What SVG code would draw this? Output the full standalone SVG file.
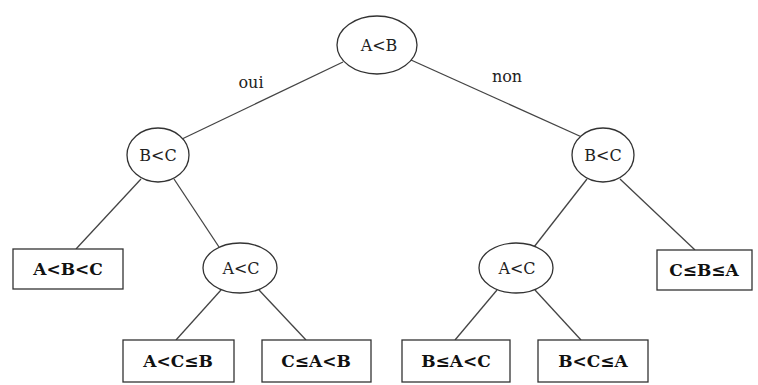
<svg xmlns="http://www.w3.org/2000/svg" width="758" height="385" viewBox="0 0 758 385">
<style>
.n{fill:#fff;stroke:#333;stroke-width:1.3}
.e{stroke:#444;stroke-width:1.3;fill:none}
.t{font-family:"DejaVu Serif","Liberation Serif",serif;font-size:16px;fill:#222;text-anchor:middle}
.b{font-family:"DejaVu Serif","Liberation Serif",serif;font-size:17px;font-weight:bold;fill:#111;text-anchor:middle}
</style>
<rect width="758" height="385" fill="#fff"/>
<g id="edges">
<line class="e" x1="343" y1="62" x2="182" y2="139"/>
<line class="e" x1="411" y1="60" x2="584" y2="138"/>
<line class="e" x1="141" y1="179" x2="76" y2="249"/>
<line class="e" x1="174" y1="179" x2="219" y2="247"/>
<line class="e" x1="587" y1="179" x2="534" y2="247"/>
<line class="e" x1="620" y1="179" x2="695" y2="250"/>
<line class="e" x1="221" y1="290" x2="176" y2="340"/>
<line class="e" x1="259" y1="290" x2="306" y2="340"/>
<line class="e" x1="497" y1="290" x2="455" y2="340"/>
<line class="e" x1="535" y1="290" x2="581" y2="340"/>
<text class="t" x="251" y="88">oui</text>
<text class="t" x="507" y="82">non</text>
</g>
<g id="root"><ellipse class="n" cx="377" cy="45" rx="40" ry="29"/><text class="t" x="379" y="51">A&lt;B</text></g>
<g id="bc_left"><ellipse class="n" cx="158" cy="155" rx="31" ry="27"/><text class="t" x="158" y="161">B&lt;C</text></g>
<g id="bc_right"><ellipse class="n" cx="603" cy="155" rx="31" ry="27"/><text class="t" x="603" y="161">B&lt;C</text></g>
<g id="ac_left"><ellipse class="n" cx="240" cy="268" rx="37" ry="25"/><text class="t" x="241" y="274">A&lt;C</text></g>
<g id="ac_right"><ellipse class="n" cx="516" cy="268" rx="37" ry="25"/><text class="t" x="517" y="274">A&lt;C</text></g>
<g id="l_abc"><rect class="n" x="13" y="249" width="110" height="40"/><text class="b" x="68" y="275">A&lt;B&lt;C</text></g>
<g id="l_cba"><rect class="n" x="657" y="250" width="95" height="40"/><text class="b" x="704" y="276">C≤B≤A</text></g>
<g id="l_acb"><rect class="n" x="123" y="340" width="111" height="42"/><text class="b" x="178" y="367">A&lt;C≤B</text></g>
<g id="l_cab"><rect class="n" x="262" y="340" width="109" height="42"/><text class="b" x="316" y="367">C≤A&lt;B</text></g>
<g id="l_bac"><rect class="n" x="402" y="340" width="108" height="42"/><text class="b" x="456" y="367">B≤A&lt;C</text></g>
<g id="l_bca"><rect class="n" x="538" y="340" width="110" height="42"/><text class="b" x="593" y="367">B&lt;C≤A</text></g>
</svg>
